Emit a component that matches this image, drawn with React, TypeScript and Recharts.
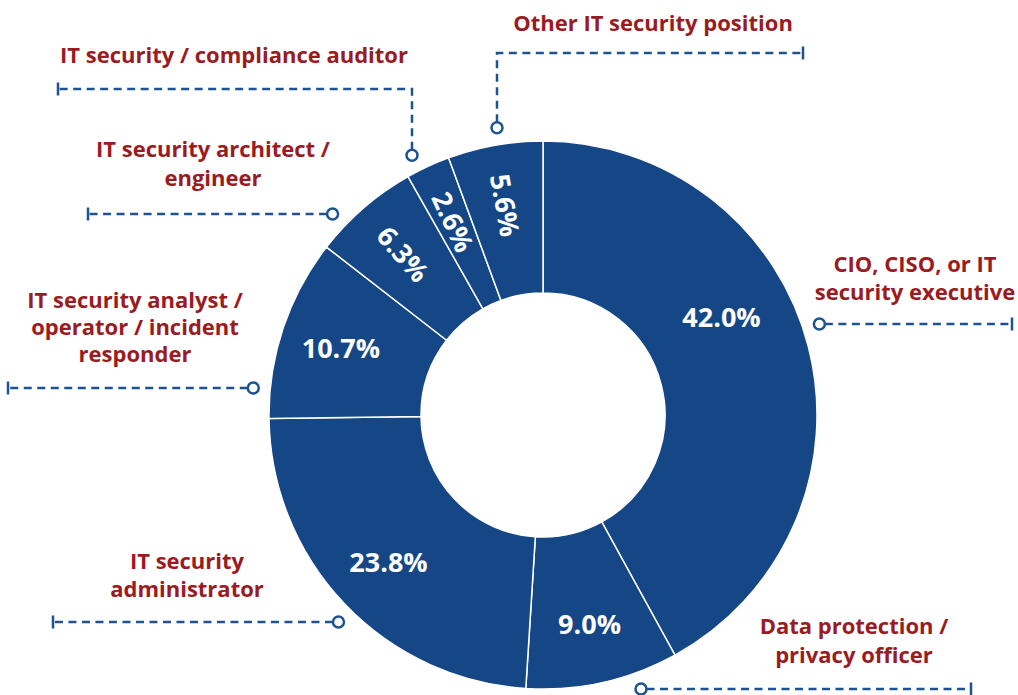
import { Cell, Pie, PieChart } from "recharts";

// role categories, "\n" marks where the printed label wraps
const roles = [
  "CIO, CISO, or IT\nsecurity executive",
  "Data protection /\nprivacy officer",
  "IT security\nadministrator",
  "IT security analyst /\noperator / incident\nresponder",
  "IT security architect /\nengineer",
  "IT security / compliance auditor",
  "Other IT security position",
];
const shares = [42.0, 9.0, 23.8, 10.7, 6.3, 2.6, 5.6];

const data = roles.map((role, i) => ({ role, share: shares[i] }));

const BLUE = "#154686";
const RED = "#9A1B21";
const LEADER = "#1D5391";
const FONT = "'Open Sans', Lato, sans-serif";

// callout placement: text centre / first baseline, leader line row and end
const callouts = [
  { tx: 915, ty: 272, lh: 28, lineY: 324, endX: 1012 },
  { tx: 854, ty: 634, lh: 29, lineY: 689, endX: 971 },
  { tx: 187, ty: 569, lh: 28, lineY: 622, endX: 53 },
  { tx: 135, ty: 308, lh: 27, lineY: 388, endX: 8 },
  { tx: 213, ty: 157, lh: 29, lineY: 214, endX: 88 },
  { tx: 234, ty: 63, lh: 27, lineY: 89, endX: 58, elbowX: 412 },
  { tx: 653, ty: 31, lh: 27, lineY: 53, endX: 803, elbowX: 497 },
];

const RAD = Math.PI / 180;

function Callout({ index, cx, cy, outerRadius }: any) {
  const c = callouts[index];
  const R = outerRadius + 17;
  const lines = roles[index].split("\n");
  let circle: { x: number; y: number };
  let path: string;
  if (c.elbowX !== undefined) {
    const dx = c.elbowX - cx;
    circle = { x: c.elbowX, y: cy - Math.sqrt(R * R - dx * dx) };
    path = `M${circle.x},${circle.y - 5.5} L${circle.x},${c.lineY} L${c.endX},${c.lineY}`;
  } else {
    const dy = c.lineY - cy;
    const side = c.endX > cx ? 1 : -1;
    circle = { x: cx + side * Math.sqrt(R * R - dy * dy), y: c.lineY };
    path = `M${circle.x + side * 5.5},${c.lineY} L${c.endX},${c.lineY}`;
  }
  return (
    <g>
      <path d={path} fill="none" stroke={LEADER} strokeWidth={2.5} strokeDasharray="8 5.5" />
      <line x1={c.endX} x2={c.endX} y1={c.lineY - 6.5} y2={c.lineY + 6.5} stroke={LEADER} strokeWidth={2.5} />
      <circle cx={circle.x} cy={circle.y} r={5.5} fill="#fff" stroke={LEADER} strokeWidth={2.5} />
      <text textAnchor="middle" fill={RED} fontFamily={FONT} fontWeight={700} fontSize={22}>
        {lines.map((l, i) => (
          <tspan key={i} x={c.tx} y={c.ty + i * c.lh}>
            {l}
          </tspan>
        ))}
      </text>
    </g>
  );
}

function renderLabel(props: any) {
  const { cx, cy, midAngle, innerRadius, outerRadius, value, index } = props;
  // the big slice's figure sits nearer its leading edge in the original
  const ang = index === 0 ? midAngle + 14.6 : midAngle;
  const r = innerRadius + (outerRadius - innerRadius) * (index === 0 ? 0.54 : 0.6);
  const x = cx + r * Math.cos(-ang * RAD);
  const y = cy + r * Math.sin(-ang * RAD);
  let rot = 0;
  if (value < 7) {
    rot = -180 - midAngle;
    while (rot > 180) rot -= 360;
    while (rot <= -180) rot += 360;
  }
  return (
    <g key={`lbl-${index}`}>
      <text
        x={x}
        y={y}
        textAnchor="middle"
        dominantBaseline="central"
        fill="#fff"
        fontFamily={FONT}
        fontWeight={700}
        fontSize={27}
        transform={rot ? `rotate(${rot} ${x} ${y})` : undefined}
      >
        {value.toFixed(1)}%
      </text>
      <Callout index={index} cx={cx} cy={cy} outerRadius={outerRadius} />
    </g>
  );
}

export default function App() {
  return (
    <div style={{ position: "absolute", left: 0, top: 0, width: 1018, height: 695, background: "#fff" }}>
      <PieChart width={1018} height={695} margin={{ top: 0, right: 0, bottom: 0, left: 0 }}>
        <Pie
          data={data}
          dataKey="share"
          nameKey="role"
          cx={543}
          cy={415}
          innerRadius={122}
          outerRadius={274}
          startAngle={90}
          endAngle={-270}
          stroke="#fff"
          strokeWidth={1.5}
          label={renderLabel}
          labelLine={false}
          isAnimationActive={false}
        >
          {data.map((d) => (
            <Cell key={d.role} fill={BLUE} />
          ))}
        </Pie>
      </PieChart>
    </div>
  );
}
